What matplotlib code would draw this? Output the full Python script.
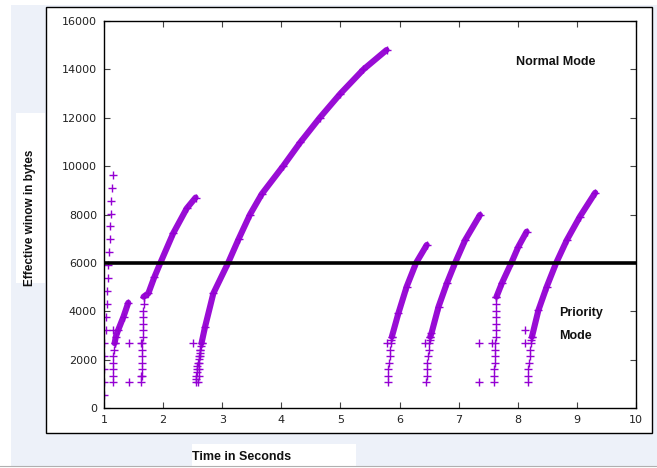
#!/usr/bin/env python3
"""Effective window vs time, normal / priority mode trace."""

import matplotlib
matplotlib.use("Agg")
import matplotlib.pyplot as plt
from matplotlib.patches import Rectangle

W, H = 657, 468
PURPLE = "#9400d3"
LABEL_FONT = ["Liberation Sans Narrow", "DejaVu Sans Condensed", "Liberation Sans", "DejaVu Sans"]

# scattered points near t=1
a_x = [1.00, 1.00, 1.00, 1.00, 1.00, 1.03, 1.03, 1.05, 1.05, 1.07, 1.07, 1.09, 1.10, 1.10, 1.12, 1.12, 1.13, 1.15]
a_y = [536, 1072, 1608, 2144, 2680, 3216, 3752, 4288, 4824, 5360, 5896, 6432, 6968, 7504, 8040, 8576, 9112, 9648]

# lone points
iso_x = [1.15, 1.43, 1.43, 7.35, 7.35, 5.78, 6.43, 7.56, 8.12, 8.12, 2.51, 1.62, 1.62]
iso_y = [3216, 2680, 1072, 2680, 1072, 2680, 2680, 2680, 3216, 2680, 2680, 2680, 1340]

# vertical stacks at the start of each burst
b_stack_x = [1.15, 1.15, 1.15, 1.16, 1.16, 1.17, 1.18]
b_stack_y = [1072, 1340, 1608, 1876, 2144, 2412, 2680]

c_stack_x = [1.63, 1.64, 1.64, 1.65, 1.65, 1.65, 1.65, 1.66, 1.66, 1.66, 1.66, 1.66, 1.67, 1.67]
c_stack_y = [1072, 1340, 1608, 1876, 2144, 2412, 2680, 2950, 3216, 3484, 3752, 4020, 4288, 4600]

d_stack_x = [2.55, 2.56, 2.56, 2.57, 2.57, 2.58, 2.59, 2.61, 2.61, 2.62, 2.63, 2.64, 2.65,
             2.59, 2.60, 2.60, 2.61, 2.62, 2.63]
d_stack_y = [1072, 1200, 1340, 1476, 1608, 1744, 1876, 2010, 2144, 2280, 2412, 2546, 2680,
             1072, 1340, 1608, 1876, 2144, 2412]

e_stack_x = [5.80, 5.81, 5.81, 5.82, 5.83, 5.84, 5.85, 5.86, 5.87]
e_stack_y = [1072, 1340, 1608, 1876, 2144, 2412, 2680, 2800, 2950]

f_stack_x = [6.45, 6.46, 6.46, 6.47, 6.48, 6.49, 6.50, 6.51, 6.52]
f_stack_y = [1072, 1340, 1608, 1876, 2144, 2412, 2680, 2800, 2950]

g_stack_x = [7.59, 7.60, 7.60, 7.61, 7.61, 7.62, 7.62, 7.63, 7.63, 7.63, 7.64, 7.64, 7.64, 7.64]
g_stack_y = [1072, 1340, 1608, 1876, 2144, 2412, 2680, 2950, 3216, 3484, 3752, 4020, 4288, 4600]

h_stack_x = [8.17, 8.18, 8.18, 8.19, 8.20, 8.21, 8.22, 8.23, 8.24]
h_stack_y = [1072, 1340, 1608, 1876, 2144, 2412, 2680, 2800, 2950]

# growth curves
b_x = [1.18, 1.20, 1.24, 1.33, 1.41]
b_y = [2680, 2950, 3225, 3775, 4350]

c_x = [1.67, 1.75, 1.85, 1.95, 2.17, 2.40, 2.55]
c_y = [4600, 4740, 5400, 5980, 7220, 8255, 8700]

d_x = [2.65, 2.71, 2.85, 3.10, 3.28, 3.47, 3.67, 4.03, 4.32, 4.65, 5.00, 5.39, 5.78]
d_y = [2680, 3360, 4740, 6000, 7000, 8000, 8850, 10000, 10980, 12000, 13000, 14000, 14800]

e_x = [5.87, 5.98, 6.12, 6.28, 6.46]
e_y = [2950, 3915, 5015, 6000, 6740]

f_x = [6.52, 6.54, 6.66, 6.80, 6.94, 7.11, 7.36]
f_y = [2950, 3090, 4190, 5155, 6000, 6945, 7980]

g_x = [7.64, 7.73, 7.90, 8.01, 8.15]
g_y = [4600, 5155, 6050, 6670, 7290]

h_x = [8.24, 8.35, 8.49, 8.65, 8.83, 9.05, 9.31]
h_y = [2950, 4050, 5015, 6000, 6945, 7910, 8900]

THRESHOLD = 6000
X_TICKS = list(range(1, 11))
Y_TICKS = list(range(0, 16001, 2000))


def fig_rect(fig, x0, y0, x1, y1, **kw):
    r = Rectangle((x0 / W, 1 - y1 / H), (x1 - x0) / W, (y1 - y0) / H,
                  transform=fig.transFigure, **kw)
    fig.add_artist(r)


fig = plt.figure(figsize=(W / 100, H / 100), dpi=100)
fig.patch.set_facecolor("white")

# page background, chart panel, label boxes
fig_rect(fig, 11, 5, 657, 466, facecolor="#edf1f9", edgecolor="none", zorder=-5)
fig_rect(fig, 46, 7, 652, 433, facecolor="white", edgecolor="black", lw=1.0, zorder=-4)
fig_rect(fig, 16, 113, 45, 283, facecolor="white", edgecolor="none", zorder=-4)
fig_rect(fig, 192, 444, 356, 468, facecolor="white", edgecolor="none", zorder=-4)
fig.add_artist(plt.Line2D([0, 1], [1 - 466 / H] * 2, transform=fig.transFigure,
                          color="#b0b0b0", lw=0.8, zorder=-3))

ax = fig.add_axes([104 / W, 1 - 408 / H, (636 - 104) / W, (408 - 21) / H])
ax.set_facecolor("white")

mk = dict(ls="none", marker="+", ms=5.5, mew=1.0, color=PURPLE)
ax.plot(a_x, a_y, **mk)
ax.plot(iso_x, iso_y, **mk)
for sx, sy in [(b_stack_x, b_stack_y), (c_stack_x, c_stack_y), (d_stack_x, d_stack_y),
               (e_stack_x, e_stack_y), (f_stack_x, f_stack_y), (g_stack_x, g_stack_y),
               (h_stack_x, h_stack_y)]:
    ax.plot(sx, sy, **mk)

for cx, cy in [(b_x, b_y), (c_x, c_y), (d_x, d_y), (e_x, e_y),
               (f_x, f_y), (g_x, g_y), (h_x, h_y)]:
    ax.plot(cx, cy, color=PURPLE, lw=4.4, solid_capstyle="round", alpha=0.95)
    ax.plot(cx, cy, **mk)

ax.axhline(THRESHOLD, color="black", lw=2.6, zorder=5)

ax.set_xlim(1, 10)
ax.set_ylim(0, 16000)
ax.set_xticks(X_TICKS)
ax.set_yticks(Y_TICKS)
ax.tick_params(direction="in", top=True, right=True, length=4, width=0.8,
               color="#444444", labelsize=8, labelcolor="#222222", pad=5)
for s in ax.spines.values():
    s.set_linewidth(1.0)
    s.set_color("black")

txt = dict(family=LABEL_FONT, weight="bold", stretch="condensed", color="#111111", fontsize=9)
fig.text(516 / W, 1 - 62 / H, "Normal Mode", ha="left", va="center", **txt)
fig.text(559 / W, 1 - 313 / H, "Priority", ha="left", va="center", **txt)
fig.text(559 / W, 1 - 336 / H, "Mode", ha="left", va="center", **txt)
fig.text(192 / W, 1 - 457 / H, "Time in Seconds", ha="left", va="center", **txt)
fig.text(30 / W, 1 - 218 / H, "Effective winow in bytes", ha="center", va="center",
         rotation=90, **dict(txt, fontsize=8.5))

fig.savefig("out.png", dpi=100)
plt.close(fig)
